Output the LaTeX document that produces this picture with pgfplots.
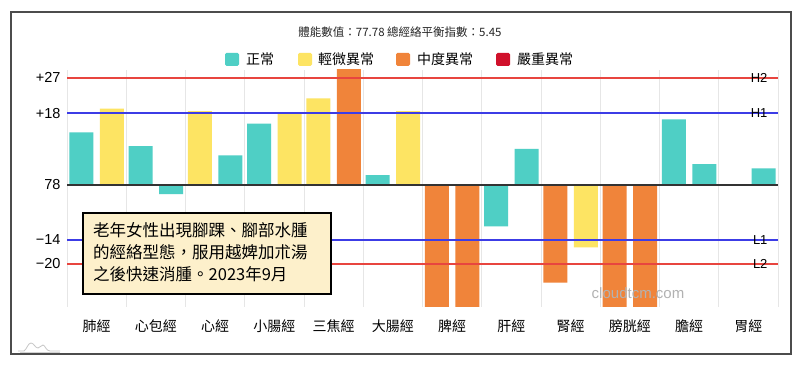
\documentclass[border=0pt]{standalone}
\usepackage{pgfplots}
\pgfplotsset{compat=1.18}
\usepackage{fontspec}
\setmainfont{Liberation Sans}
\newfontfamily\cjk{Noto Sans CJK TC}

\definecolor{cteal}{HTML}{4FCFC5}
\definecolor{cyellow}{HTML}{FDE463}
\definecolor{corange}{HTML}{F0843A}
\definecolor{cred}{HTML}{D0112B}
\definecolor{lred}{HTML}{E8453F}
\definecolor{lblue}{HTML}{3C3CE6}
\definecolor{boxfill}{HTML}{FDF0CB}
\definecolor{gridc}{HTML}{E6E6E6}
\definecolor{basec}{HTML}{333333}

\begin{document}
\begin{tikzpicture}
\useasboundingbox (0pt,0pt) rectangle (800pt,366pt);
\fill[white] (0pt,0pt) rectangle (800pt,366pt);
\draw[line width=1.8pt, black!70] (11pt,12pt) rectangle (791pt,354pt);
\begin{axis}[
  at={(67pt,59pt)}, anchor=south west, scale only axis,
  width=711pt, height=237pt,
  xmin=-0.5, xmax=11.5, ymin=-31, ymax=29,
  axis line style={draw=none},
  xtick style={draw=none}, ytick style={draw=none},
  ymajorgrids=false, yminorgrids=false, xmajorgrids=false,
  xtick={0,...,11},
  xticklabels={肺經,心包經,心經,小腸經,三焦經,大腸經,脾經,肝經,腎經,膀胱經,膽經,胃經},
  xticklabel style={font=\cjk\fontsize{14}{16}\selectfont, anchor=center, yshift=-19pt},
  minor xtick={-0.5,0.5,...,11.5},
  xminorgrids=true,
  minor grid style={gridc, line width=1pt},
  ytick={-20,-14,0,18,27},
  yticklabels={−20,−14,78,+18,+27},
  yticklabel style={font=\fontsize{14.5}{16}\selectfont, anchor=east, xshift=-3pt},
]
% teal (正常)
\addplot[ybar, bar width=24pt, bar shift=0pt, fill=cteal, draw=none] coordinates {
  (-0.258,13.2) (0.742,9.7) (1.258,-2.4) (2.258,7.4) (2.742,15.4) (4.742,2.4)
  (6.742,-10.6) (7.258,9.0) (9.742,16.5) (10.258,5.2) (10.742,0) (11.258,4.1)};
% yellow (輕微異常)
\addplot[ybar, bar width=24pt, bar shift=0pt, fill=cyellow, draw=none] coordinates {
  (0.258,19.2) (1.742,18.6) (3.258,18.3) (3.742,21.8) (5.258,18.6) (8.258,-15.9)};
% orange (中度異常)
\addplot[ybar, bar width=24pt, bar shift=0pt, fill=corange, draw=none] coordinates {
  (4.258,32) (5.742,-35) (6.258,-35) (7.742,-24.8) (8.742,-35) (9.258,-35)};
% reference lines (thresholds H2, H1, L1, L2 and baseline)
\addplot[draw=lred, line width=2pt] coordinates {(-0.5,27) (11.5,27)};
\addplot[draw=lblue, line width=2pt] coordinates {(-0.5,18) (11.5,18)};
\addplot[draw=lblue, line width=2pt] coordinates {(-0.5,-14) (11.5,-14)};
\addplot[draw=lred, line width=2pt] coordinates {(-0.5,-20) (11.5,-20)};
\addplot[draw=basec, line width=2pt] coordinates {(-0.5,0) (11.5,0)};
\node[anchor=east, font=\fontsize{13}{13}\selectfont, xshift=-7pt] at (axis cs:11.5,27) {H2};
\node[anchor=east, font=\fontsize{13}{13}\selectfont, xshift=-7pt] at (axis cs:11.5,18) {H1};
\node[anchor=east, font=\fontsize{13}{13}\selectfont, xshift=-7pt] at (axis cs:11.5,-14) {L1};
\node[anchor=east, font=\fontsize{13}{13}\selectfont, xshift=-7pt] at (axis cs:11.5,-20) {L2};
\end{axis}
% title
\node[font=\cjk\fontsize{11.5}{12}\selectfont, text=black!85] at (400pt,334pt) {體能數值：77.78 總經絡平衡指數：5.45};
% legend
\fill[cteal, rounded corners=1.5pt] (225pt,300pt) rectangle (239pt,313pt);
\node[anchor=west, font=\cjk\fontsize{14}{16}\selectfont, inner sep=0pt] at (246pt,306.5pt) {正常};
\fill[cyellow, rounded corners=1.5pt] (298pt,300pt) rectangle (312pt,313pt);
\node[anchor=west, font=\cjk\fontsize{14}{16}\selectfont, inner sep=0pt] at (318pt,306.5pt) {輕微異常};
\fill[corange, rounded corners=1.5pt] (396pt,300pt) rectangle (410pt,313pt);
\node[anchor=west, font=\cjk\fontsize{14}{16}\selectfont, inner sep=0pt] at (417pt,306.5pt) {中度異常};
\fill[cred, rounded corners=1.5pt] (496pt,300pt) rectangle (510pt,313pt);
\node[anchor=west, font=\cjk\fontsize{14}{16}\selectfont, inner sep=0pt] at (517pt,306.5pt) {嚴重異常};
% annotation box
\draw[line width=1.8pt, black, fill=boxfill] (83pt,72pt) rectangle (331pt,153pt);
\node[anchor=north west, align=left, inner sep=0pt, font=\cjk\fontsize{16.5}{22}\selectfont] at (93pt,144pt)
  {老年女性出現腳踝、腳部水腫\\的經絡型態，服用越婢加朮湯\\之後快速消腫。2023年9月};
% watermark
\node[font=\fontsize{15}{16}\selectfont, text=gray!60] at (638pt,73pt) {cloudtcm.com};
% logo
\draw[gray!45, line width=0.8pt] (18pt,15pt) -- (24pt,15pt) .. controls (27pt,17pt) and (28pt,23pt) .. (31pt,23pt) .. controls (34pt,23pt) and (35pt,18pt) .. (38pt,18pt) .. controls (40pt,18pt) and (41pt,21pt) .. (43pt,21pt) .. controls (45pt,21pt) and (46pt,15pt) .. (50pt,15pt) -- (60pt,15pt);
\draw[gray!35, line width=0.6pt] (20pt,14pt) -- (60pt,14pt);
\end{tikzpicture}
\end{document}
